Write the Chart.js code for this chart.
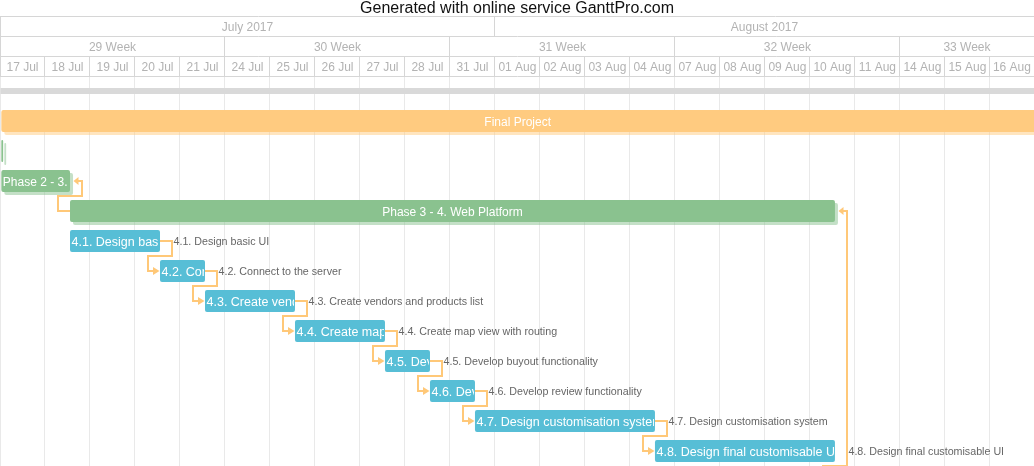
<!DOCTYPE html>
<html>
<head>
<meta charset="utf-8">
<script src="https://cdn.jsdelivr.net/npm/chart.js@4/dist/chart.umd.min.js"></script>
<style>
html,body{margin:0;padding:0;background:#fff;overflow:hidden;}
#wrap{width:1034px;height:466px;position:relative;}
</style>
</head>
<body>
<div id="wrap"><canvas id="c"></canvas></div>
<script>
// ---------- data ----------
const chartTitle = 'Generated with online service GanttPro.com';

const monthLabels = ['July 2017', 'August 2017'];
const monthDays = [11, 12];
const weekLabels = ['29 Week', '30 Week', '31 Week', '32 Week', '33 Week'];
const weekDays = [5, 5, 5, 5, 5];
const dayLabels = ['17 Jul', '18 Jul', '19 Jul', '20 Jul', '21 Jul', '24 Jul', '25 Jul', '26 Jul', '27 Jul', '28 Jul',
  '31 Jul', '01 Aug', '02 Aug', '03 Aug', '04 Aug', '07 Aug', '08 Aug', '09 Aug', '10 Aug', '11 Aug',
  '14 Aug', '15 Aug', '16 Aug'];
const visibleDays = 22.98;   // working days shown in the window

const taskNames = ['Timeline', 'Final Project', 'Phase 1 - 2.', 'Phase 2 - 3. Mobile App', 'Phase 3 - 4. Web Platform',
  '4.1. Design basic UI', '4.2. Connect to the server', '4.3. Create vendors and products list',
  '4.4. Create map view with routing', '4.5. Develop buyout functionality', '4.6. Develop review functionality',
  '4.7. Design customisation system', '4.8. Design final customisable UI', 'Phase 4 - 5.'];
const taskKinds = ['timeline', 'project', 'phase', 'phase', 'phase',
  'task', 'task', 'task', 'task', 'task', 'task', 'task', 'task', 'phase'];
// start / end in working days from 17 Jul
const taskStart = [0, 0.03, 0.03, 0.03, 1.556, 1.556, 3.556, 4.556, 6.556, 8.556, 9.556, 10.556, 14.556, 18.556];
const taskEnd   = [22.98, 26, 0.07, 1.556, 18.556, 3.556, 4.556, 6.556, 8.556, 9.556, 10.556, 14.556, 18.556, 21];
const lastVisibleRow = 12;

// dependencies (row indexes)
const linkFrom = [3, 4, 5, 6, 7, 8, 9, 10, 11];
const linkTo   = [4, 13, 6, 7, 8, 9, 10, 11, 12];
const linkArrowAt = ['from', 'from', 'to', 'to', 'to', 'to', 'to', 'to', 'to'];

// ---------- styles ----------
const FONT = '"Liberation Sans", Arial, Helvetica, sans-serif';
const kindColor = {timeline: '#d9d9d9', project: '#ffcb80', phase: '#8ac28f', task: '#57bed6'};
const kindShadow = {project: 'rgba(255,203,128,0.5)', phase: 'rgba(138,194,143,0.5)'};
const kindThickness = {timeline: 6, project: 22, phase: 22, task: 22};
const kindFont = {project: 12, phase: 12, task: 12.5};
const linkColor = '#ffc878';
const headerLine = '#d6d6d6';
const areaLine = '#e9e9e9';

// ---------- header axes ----------
function headerTicks(labels, spans) {
  const out = [];
  let s = 0;
  for (let i = 0; i < labels.length; i++) {
    const e = s + spans[i];
    if (s < visibleDays) {
      out.push({value: s, label: ''});
      out.push({value: (s + Math.min(e, visibleDays)) / 2, label: labels[i]});
    }
    s = e;
  }
  return out;
}
const dayTicks = headerTicks(dayLabels, dayLabels.map(() => 1));
const weekTicks = headerTicks(weekLabels, weekDays);
const monthTicks = headerTicks(monthLabels, monthDays);

function isBoundary(arr, ctx) {
  return arr[ctx.index] && arr[ctx.index].label === '';
}
function headerAxis(arr, weight, onArea) {
  return {
    type: 'linear', position: 'top', min: 0, max: visibleDays, bounds: 'data', weight: weight,
    afterBuildTicks: axis => { axis.ticks = arr.map(t => ({value: t.value})); },
    afterFit: axis => { axis.height = 20; },
    grid: {
      display: true, drawOnChartArea: onArea, drawTicks: true, tickLength: 20,
      lineWidth: 1, tickWidth: 1,
      color: ctx => isBoundary(arr, ctx) ? areaLine : 'rgba(0,0,0,0)',
      tickColor: ctx => isBoundary(arr, ctx) ? headerLine : 'rgba(0,0,0,0)'
    },
    border: {display: true, color: headerLine, width: 1},
    ticks: {
      autoSkip: false, maxRotation: 0, minRotation: 0, padding: -19.2,
      color: '#b3b3b3', font: {family: FONT, size: 12, lineHeight: 1.2},
      callback: (v, i) => arr[i] ? arr[i].label : ''
    }
  };
}

// ---------- datasets ----------
function kindData(kind) {
  return taskNames.map((n, i) => taskKinds[i] === kind ? [taskStart[i], taskEnd[i]] : null);
}
const datasets = ['timeline', 'project', 'phase', 'task'].map(kind => ({
  label: kind,
  data: kindData(kind),
  backgroundColor: kindColor[kind],
  barThickness: kindThickness[kind],
  shadowColor: kindShadow[kind] || null,
  grouped: false,
  borderSkipped: false,
  borderRadius: kind === 'timeline' ? 0 : 2,
  borderWidth: 0,
  inflateAmount: 0
}));

// ---------- plugin: shadows, links, labels ----------
const ganttPlugin = {
  id: 'gantt',
  beforeDatasetDraw(chart, args) {
    const ds = chart.data.datasets[args.index];
    const ctx = chart.ctx;
    if (ds.shadowColor) {
      ctx.shadowColor = ds.shadowColor;
      ctx.shadowOffsetX = 3;
      ctx.shadowOffsetY = 3;
      ctx.shadowBlur = 0;
    }
  },
  afterDatasetDraw(chart) {
    const ctx = chart.ctx;
    ctx.shadowColor = 'rgba(0,0,0,0)';
    ctx.shadowOffsetX = 0;
    ctx.shadowOffsetY = 0;
  },
  afterDraw(chart) {
    const ctx = chart.ctx;
    const xS = chart.scales.x, yS = chart.scales.y, area = chart.chartArea;
    const rowH = yS.getPixelForValue(1) - yS.getPixelForValue(0);

    // top border of header
    const topY = Math.round(chart.scales.xMonth.top) + 0.5;
    ctx.save();
    ctx.strokeStyle = headerLine; ctx.lineWidth = 1;
    ctx.beginPath(); ctx.moveTo(0, topY); ctx.lineTo(chart.width, topY); ctx.stroke();
    ctx.restore();

    // links
    ctx.save();
    ctx.beginPath(); ctx.rect(area.left, area.top, area.right - area.left, chart.height - area.top); ctx.clip();
    ctx.strokeStyle = linkColor; ctx.fillStyle = linkColor; ctx.lineWidth = 2; ctx.lineJoin = 'miter';
    for (let i = 0; i < linkFrom.length; i++) {
      const f = linkFrom[i], t = linkTo[i];
      const xe = Math.round(xS.getPixelForValue(taskEnd[f]));
      const yf = Math.round(yS.getPixelForValue(f));
      const xs = Math.round(xS.getPixelForValue(taskStart[t]));
      const yt = Math.round(yS.getPixelForValue(t));
      const ym = Math.round(yt - rowH / 2);
      const out = 12;
      const fromArrow = linkArrowAt[i] === 'from';
      ctx.beginPath();
      ctx.moveTo(fromArrow ? xe + 7 : xe, yf);
      ctx.lineTo(xe + out, yf);
      ctx.lineTo(xe + out, ym);
      ctx.lineTo(xs - out, ym);
      ctx.lineTo(xs - out, yt);
      ctx.lineTo(fromArrow ? xs : xs - 6, yt);
      ctx.stroke();
      ctx.beginPath();
      if (fromArrow) {
        ctx.moveTo(xe + 3.5, yf);
        ctx.lineTo(xe + 8.5, yf - 4);
        ctx.lineTo(xe + 8.5, yf + 4);
      } else {
        ctx.moveTo(xs - 0.5, yt);
        ctx.lineTo(xs - 7, yt - 4);
        ctx.lineTo(xs - 7, yt + 4);
      }
      ctx.closePath(); ctx.fill();
    }
    ctx.restore();

    // labels
    ctx.save();
    ctx.textBaseline = 'middle';
    for (let i = 0; i <= lastVisibleRow; i++) {
      const kind = taskKinds[i];
      if (kind === 'timeline') continue;
      const x0 = Math.max(xS.getPixelForValue(taskStart[i]), area.left);
      const xEnd = xS.getPixelForValue(taskEnd[i]);
      const x1 = Math.min(xEnd, area.right);
      const yc = yS.getPixelForValue(i);
      const w = x1 - x0;
      if (w > 8) {
        ctx.font = kindFont[kind] + 'px ' + FONT;
        ctx.fillStyle = '#ffffff';
        const tw = ctx.measureText(taskNames[i]).width;
        ctx.save();
        ctx.beginPath(); ctx.rect(x0, yc - 11, w - 1, 22); ctx.clip();
        if (tw <= w - 6) {
          ctx.textAlign = 'center';
          ctx.fillText(taskNames[i], (x0 + x1) / 2, yc + 2);
        } else {
          ctx.textAlign = 'left';
          ctx.fillText(taskNames[i], x0 + 1.5, yc + 2);
        }
        ctx.restore();
      }
      if (kind === 'task') {
        ctx.font = '10.7px ' + FONT;
        ctx.fillStyle = '#666666';
        ctx.textAlign = 'left';
        ctx.fillText(taskNames[i], xEnd + 13.5, yc + 1);
      }
    }
    ctx.restore();
  }
};

new Chart(document.getElementById('c'), {
  type: 'bar',
  data: {labels: taskNames, datasets: datasets},
  options: {
    indexAxis: 'y',
    responsive: true,
    maintainAspectRatio: false,
    animation: false,
    layout: {padding: 0},
    plugins: {
      legend: {display: false},
      tooltip: {enabled: false},
      title: {
        display: true, text: chartTitle, color: '#111111',
        font: {family: FONT, size: 16, weight: 'normal', lineHeight: 1},
        padding: {top: 1, bottom: -1}
      }
    },
    scales: {
      x: headerAxis(dayTicks, 1, true),
      xWeek: headerAxis(weekTicks, 2, false),
      xMonth: headerAxis(monthTicks, 3, false),
      y: {
        type: 'category', labels: taskNames, display: false, offset: true,
        min: taskNames[0], max: taskNames[lastVisibleRow],
        grid: {display: false}
      }
    }
  },
  plugins: [ganttPlugin]
});
</script>
</body>
</html>
